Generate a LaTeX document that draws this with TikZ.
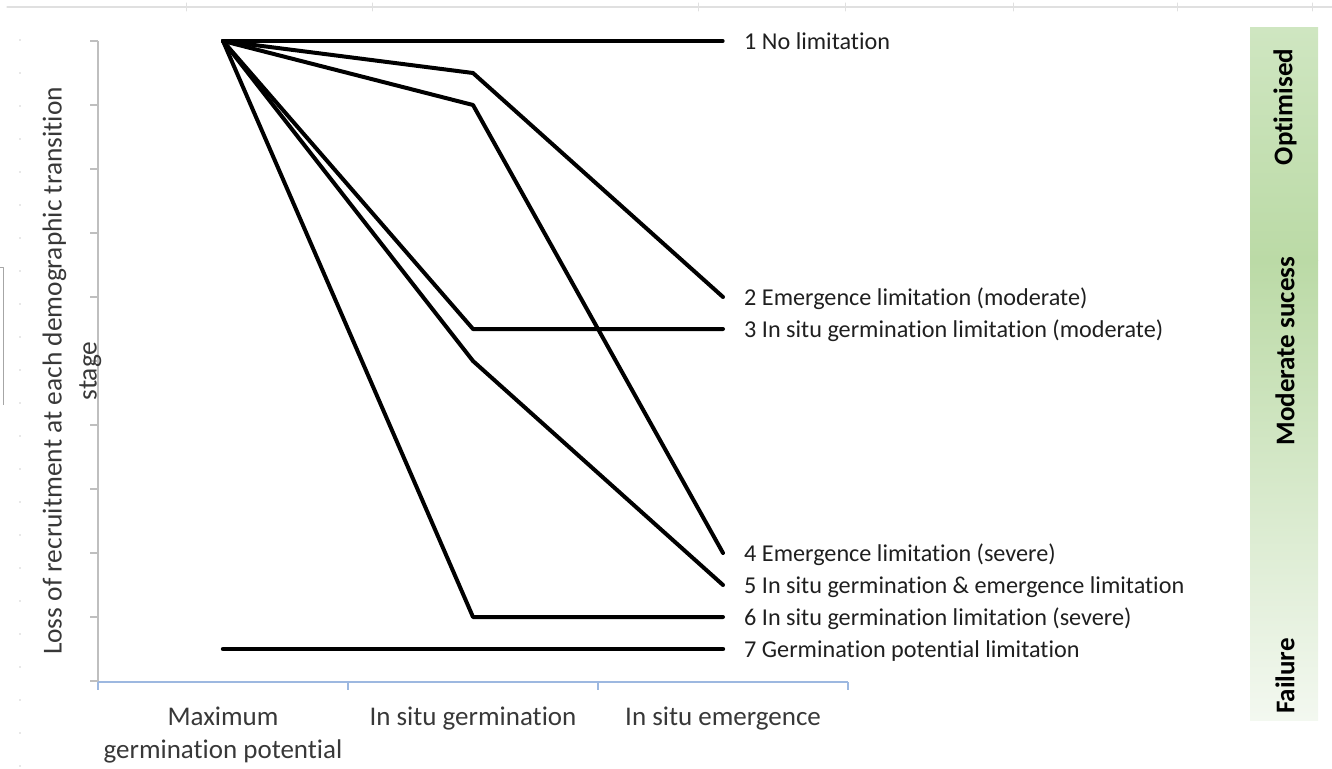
\documentclass[tikz,border=0pt]{standalone}
\usepackage{fontspec}
\setmainfont{Carlito}[Ligatures={NoCommon,NoRequired,NoContextual}]
\definecolor{bartop}{HTML}{CFE6C1}
\definecolor{barmid}{HTML}{BBDAA6}
\definecolor{barbot}{HTML}{F3F8F0}
\definecolor{axblue}{HTML}{9DB8E0}
\begin{document}
\begin{tikzpicture}[x=1pt,y=-1pt,line cap=round,line join=round,
  dataline/.style={line width=4pt,black},
  lab/.style={anchor=base west,inner sep=0pt,font=\fontsize{24.2}{29}\selectfont,text=black!88},
  axlab/.style={inner sep=0pt,font=\fontsize{27}{33}\selectfont,text=black!78,align=center},
  ylabstyle/.style={inner sep=0pt,font=\fontsize{27.4}{35}\selectfont,text=black!78,align=center},
  barlab/.style={rotate=90,inner sep=0pt,font=\bfseries\fontsize{27}{30}\selectfont,text=black},
  gridgrey/.style={draw=black!25,line width=1.3pt},
  xaxis/.style={draw=axblue,line width=1.4pt}]
\useasboundingbox (0,0) rectangle (1332,768);
% faint top rule with ticks
\draw[black!12,line width=1.2pt] (7,7) -- (1332,7);
\foreach \tx in {186,372,698,845,1013,1177,1312} \draw[black!12,line width=1pt] (\tx,3) -- (\tx,11);
% faint left dots
\foreach \k in {0,...,22} \fill[black!18] (20,{40+33*\k}) circle (0.9pt);
% left bracket
\draw[black!35,line width=1pt,line cap=butt] (0,267) -- (3,267) -- (3,405);
% green bar
\shade[top color=bartop,bottom color=barmid] (1250,28) rectangle (1318,260);
\shade[top color=barmid,bottom color=barbot] (1250,260) rectangle (1318,720);
\node[barlab] (bopt) at (1285,107) {Optimised};
\node[barlab] (bmod) at (1285,351) {Moderate sucess};
\node[barlab] (bfail) at (1285,676) {Failure};
% y axis
\coordinate (yt) at (98,41);
\coordinate (yb) at (98,682);
\draw[gridgrey,line cap=butt] (yt) -- (yb);
\foreach \k in {0,...,10} \draw[gridgrey,line cap=butt] (90,{41+64*\k}) -- (98,{41+64*\k});
% x axis
\coordinate (xr) at (848,682);
\draw[xaxis,line cap=butt] (yb) -- (xr);
\foreach \tx in {98,348,598,848} \draw[xaxis,line cap=butt] (\tx,682) -- (\tx,690);
% axis labels
\node[ylabstyle,rotate=90] (ylab) at (72,371) {Loss of recruitment at each demographic transition\\stage};
\node[axlab,anchor=north] (c1) at (223,707) {Maximum\\germination potential};
\node[axlab,anchor=north] (c2) at (473,707) {In situ germination};
\node[axlab,anchor=north] (c3) at (723,707) {In situ emergence};
% data points
\coordinate (s) at (223,41);
\coordinate (e1) at (723,41);
\coordinate (g2) at (473,73);  \coordinate (e2) at (723,297);
\coordinate (g3) at (473,329); \coordinate (e3) at (723,329);
\coordinate (g4) at (473,105); \coordinate (e4) at (723,553);
\coordinate (g5) at (473,361); \coordinate (e5) at (723,585);
\coordinate (g6) at (473,617); \coordinate (e6) at (723,617);
\coordinate (s7) at (223,649); \coordinate (e7) at (723,649);
% lines
\draw[dataline,line width=3.2pt] (s) -- (e1);
\draw[dataline] (s) -- (g2) -- (e2);
\draw[dataline] (s) -- (g3) -- (e3);
\draw[dataline] (s) -- (g4) -- (e4);
\draw[dataline] (s) -- (g5) -- (e5);
\draw[dataline] (s) -- (g6) -- (e6);
\draw[dataline,line width=4.4pt] (s7) -- (e7);
% labels
\node[lab] (l1) at (744,49) {1 No limitation};
\node[lab] (l2) at (744,305) {2 Emergence limitation (moderate)};
\node[lab] (l3) at (744,337) {3 In situ germination limitation (moderate)};
\node[lab] (l4) at (744,561) {4 Emergence limitation (severe)};
\node[lab] (l5) at (744,593) {5 In situ germination \& emergence limitation};
\node[lab] (l6) at (744,625) {6 In situ germination limitation (severe)};
\node[lab] (l7) at (744,657) {7 Germination potential limitation};
\end{tikzpicture}
\end{document}
